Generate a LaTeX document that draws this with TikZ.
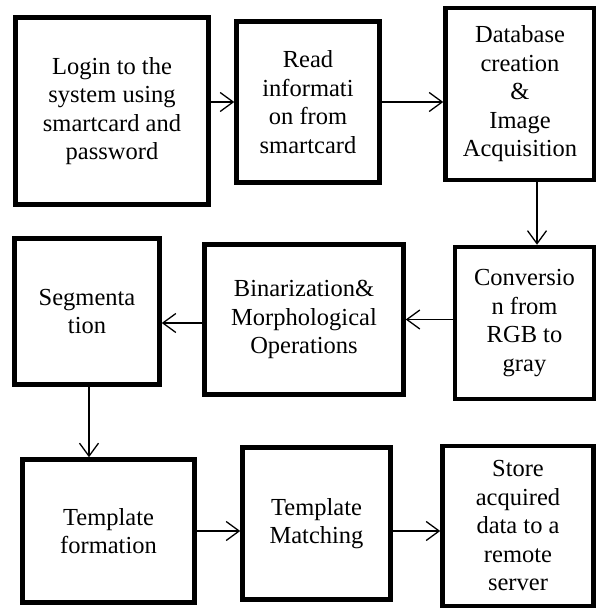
\documentclass[tikz,border=0pt]{standalone}
\usepackage{fontspec}
\setmainfont{Liberation Serif}
\usepackage{tikz}
\usetikzlibrary{positioning,arrows.meta}

\begin{document}
\begin{tikzpicture}[
  x=1pt, y=-1pt,
  font=\fontsize{24.5}{28.5}\selectfont,
  stagebox/.style={draw,line width=4.5pt,rectangle,align=center,inner sep=0pt},
  flow/.style={line width=1.3pt,-{Straight Barb[length=13pt,width=19pt,line width=1.3pt]}}
]
\useasboundingbox (0,0) rectangle (595,609);

% first row
\node[stagebox,minimum width=193pt,minimum height=187pt] (login) at (112,111) {Login to the\\system using\\smartcard and\\password};
\node[stagebox,minimum width=143pt,minimum height=161pt] (read) at (308,102) {Read\\informati\\on from\\smartcard};
\node[stagebox,minimum width=149pt,minimum height=172pt] (db) at (520,94) {Database\\creation\\\&\\Image\\Acquisition};

% second row
\node[stagebox,minimum width=139pt,minimum height=152pt] (conv) at (524.5,323) {Conversio\\n from\\RGB to\\gray};
\node[stagebox,minimum width=199pt,minimum height=150pt] (bin) at (304,319.5) {Binarization\&\\Morphological\\Operations};
\node[stagebox,minimum width=145pt,minimum height=146pt] (seg) at (87,311.5) {Segmenta\\tion};

% third row
\node[stagebox,minimum width=172pt,minimum height=143pt] (tf) at (108.5,531) {Template\\formation};
\node[stagebox,minimum width=148pt,minimum height=152pt] (tm) at (316.5,523.5) {Template\\Matching};
\node[stagebox,minimum width=151pt,minimum height=160pt] (store) at (518,526) {Store\\acquired\\data to a\\remote\\server};

\draw[flow] (login.east |- read.west) -- (read.west);
\draw[flow] (read.east) -- (read.east -| db.west);
\draw[flow] ([xshift=17pt]db.south) -- ([xshift=17pt]db.south |- conv.north);
\draw[flow] (conv.west |- bin.east) -- (bin.east);
\draw[flow] ([yshift=-3.5pt]bin.west) -- ([yshift=-3.5pt]bin.west -| seg.east);
\draw[flow] ([xshift=2pt]seg.south) -- ([xshift=2pt]seg.south |- tf.north);
\draw[flow] (tf.east) -- (tf.east -| tm.west);
\draw[flow] (tf.east -| tm.east) -- (tf.east -| store.west);
\end{tikzpicture}
\end{document}
